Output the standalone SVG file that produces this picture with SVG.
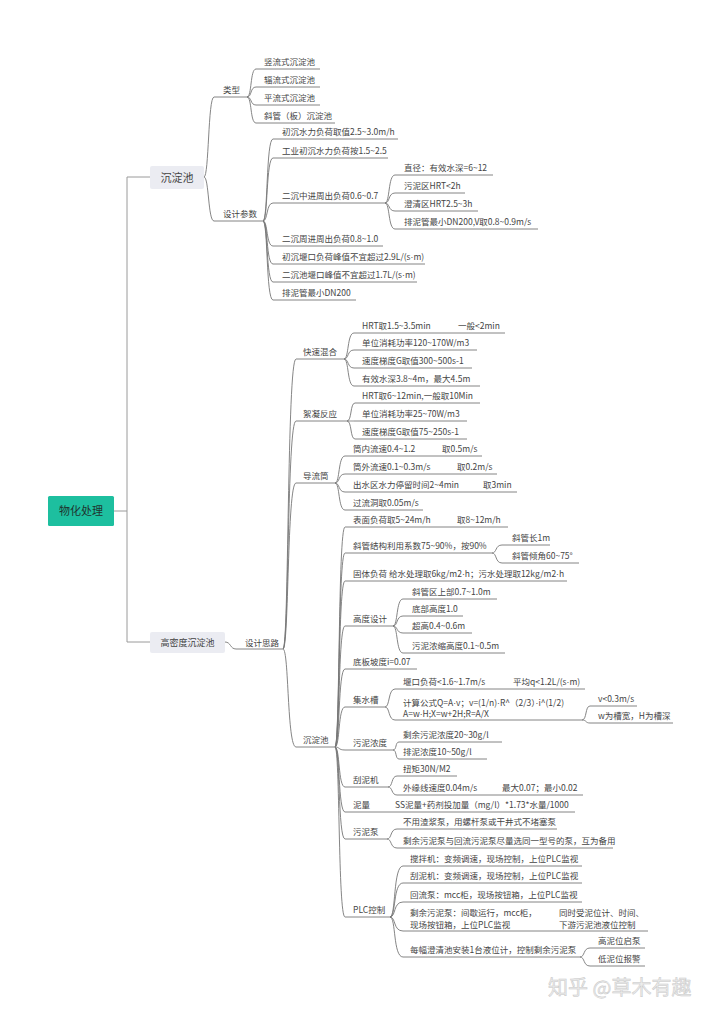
<svg xmlns="http://www.w3.org/2000/svg" width="720" height="1019" viewBox="0 0 720 1019">
<style>
text{font-family:"Noto Sans CJK SC","Noto Sans",sans-serif;fill:#444;font-size:8.5px}
.d{font-family:"Liberation Sans",sans-serif}
.c{fill:none;stroke:#777;stroke-width:0.9}
.r{fill:none;stroke:#9a9a9a;stroke-width:1}
.box{fill:#ebecf2}
.mid{text-anchor:middle}
</style>
<rect width="720" height="1019" fill="#fff"/>
<g id="connectors">
<path class="r" d="M114,511 H127 M127,177 V642 M127,177 H150 M127,642 H150"/>
<path class="c" d="M204,177 C209,177 208,97 214,97 H247 M204,177 C209,177 208,221 214,221 H263"/>
<path class="c" d="M247,97 C252,97 250,69 256,69 H320 M247,97 C252,97 250,87 256,87 H320 M247,97 C252,97 250,105 256,105 H320 M247,97 C252,97 250,123 256,123 H335"/>
<path class="c" d="M263,221 C268,221 266,139 273,139 H398 M263,221 C268,221 266,158 273,158 H388 M263,221 C268,221 266,203 273,203 H385 M263,221 C268,221 266,246 273,246 H383 M263,221 C268,221 266,264 273,264 H425 M263,221 C268,221 266,282 273,282 H417 M263,221 C268,221 266,300 273,300 H356"/>
<path class="c" d="M385,203 C390,203 388,175 395,175 H493 M385,203 C390,203 388,193 395,193 H465 M385,203 C390,203 388,211 395,211 H478 M385,203 C390,203 388,229 395,229 H538"/>
<path class="c" d="M225,642 C231,642 230,649 236,649 H283"/>
<path class="c" d="M283,649 C289,649 287,359 296,359 H344 M283,649 C289,649 287,421 296,421 H347 M283,649 C289,649 287,483 296,483 H335 M283,649 C289,649 287,747 296,747 H335"/>
<path class="c" d="M344,359 C349,359 347,333 354,333 H505 M344,359 C349,359 347,350 354,350 H477 M344,359 C349,359 347,368 354,368 H472 M344,359 C349,359 347,386 354,386 H480"/>
<path class="c" d="M347,421 C352,421 350,403 355,403 H480 M347,421 C352,421 350,421 355,421 H467 M347,421 C352,421 350,439 355,439 H467"/>
<path class="c" d="M335,483 C340,483 338,456 345,456 H482 M335,483 C340,483 338,474 345,474 H497 M335,483 C340,483 338,492 345,492 H517 M335,483 C340,483 338,510 345,510 H423"/>
<path class="c" d="M335,747 C340,747 338,527 345,527 H508 M335,747 C340,747 338,553 345,553 H492 M335,747 C340,747 338,581 345,581 H567 M335,747 C340,747 338,626 345,626 H393 M335,747 C340,747 338,669 345,669 H417 M335,747 C340,747 338,707 345,707 H385 M335,747 C340,747 338,750 345,750 H393 M335,747 C340,747 338,787 345,787 H388 M335,747 C340,747 338,812 345,812 H575 M335,747 C340,747 338,839 345,839 H387 M335,747 C340,747 338,917 345,917 H390"/>
<path class="c" d="M492,553 C497,553 495,545 502,545 H550 M492,553 C497,553 495,563 502,563 H579"/>
<path class="c" d="M393,626 C398,626 396,599 403,599 H497 M393,626 C398,626 396,616 403,616 H463 M393,626 C398,626 396,633 403,633 H472 M393,626 C398,626 396,653 403,653 H505"/>
<path class="c" d="M385,707 C390,707 388,689 395,689 H585 M385,707 C390,707 388,720 395,720 H582"/>
<path class="c" d="M582,720 C587,720 585,706 590,706 H637 M582,720 C587,720 585,723 590,723 H673"/>
<path class="c" d="M393,750 C397,750 395,742 399,742 H502 M393,750 C397,750 395,759 399,759 H487"/>
<path class="c" d="M388,787 C393,787 391,776 397,776 H457 M388,787 C393,787 391,795 397,795 H583"/>
<path class="c" d="M387,839 C392,839 390,829 397,829 H557 M387,839 C392,839 390,848 397,848 H613"/>
<path class="c" d="M390,917 C396,917 393,866 403,866 H582 M390,917 C396,917 393,883 403,883 H582 M390,917 C396,917 393,902 403,902 H582 M390,917 C396,917 393,931 403,931 H648 M390,917 C396,917 393,957 403,957 H580"/>
<path class="c" d="M580,957 C585,957 583,948 590,948 H645 M580,957 C585,957 583,966 590,966 H645"/>
</g>
<g id="root"><rect x="48" y="496" width="66" height="30" rx="1.5" fill="#1dbf9f"/><text x="81" y="515" class="mid" style="font-size:11px;fill:#1f332e">物化处理</text></g>
<g id="n-cdc"><rect class="box" x="150" y="166" width="54" height="23" rx="2"/><text x="177" y="181.5" class="mid" style="font-size:11px">沉淀池</text></g>
<g id="n-gmd"><rect class="box" x="150" y="632" width="75" height="21" rx="2"/><text x="187.5" y="645.5" class="mid" style="font-size:9px">高密度沉淀池</text></g>
<g id="n-lx"><text x="223" y="93">类型</text></g>
<g id="n-lx1"><text x="264" y="65">竖流式沉淀池</text></g>
<g id="n-lx2"><text x="264" y="83">辐流式沉淀池</text></g>
<g id="n-lx3"><text x="264" y="101">平流式沉淀池</text></g>
<g id="n-lx4"><text x="264" y="119">斜管（板）沉淀池</text></g>
<g id="n-sjcs"><text x="223" y="217">设计参数</text></g>
<g id="n-p1"><text x="282" y="135">初沉水力负荷取值2.5~3.0m/h</text></g>
<g id="n-p2"><text x="282" y="154">工业初沉水力负荷按1.5~2.5</text></g>
<g id="n-p3"><text x="282" y="199">二沉中进周出负荷0.6~0.7</text></g>
<g id="n-p31"><text x="404" y="171">直径：有效水深=6~12</text></g>
<g id="n-p32"><text x="404" y="189">污泥区HRT&lt;2h</text></g>
<g id="n-p33"><text x="404" y="207">澄清区HRT2.5~3h</text></g>
<g id="n-p34"><text x="404" y="225">排泥管最小DN200,V取0.8~0.9m/s</text></g>
<g id="n-p4"><text x="282" y="242">二沉周进周出负荷0.8~1.0</text></g>
<g id="n-p5"><text x="282" y="260">初沉堰口负荷峰值不宜超过2.9L/(s<tspan class="d">·</tspan>m)</text></g>
<g id="n-p6"><text x="282" y="278">二沉池堰口峰值不宜超过1.7L/(s<tspan class="d">·</tspan>m)</text></g>
<g id="n-p7"><text x="282" y="296">排泥管最小DN200</text></g>
<g id="n-sjsl"><text x="245" y="646">设计思路</text></g>
<g id="n-kshh"><text x="303" y="355">快速混合</text></g>
<g id="n-k1"><text x="362" y="329">HRT取1.5~3.5min</text><text x="458" y="329">一般&lt;2min</text></g>
<g id="n-k2"><text x="362" y="346">单位消耗功率120~170W/m3</text></g>
<g id="n-k3"><text x="362" y="364">速度梯度G取值300~500s-1</text></g>
<g id="n-k4"><text x="362" y="382">有效水深3.8~4m，最大4.5m</text></g>
<g id="n-xnfy"><text x="303" y="417">絮凝反应</text></g>
<g id="n-x1"><text x="362" y="399">HRT取6~12min,一般取10Min</text></g>
<g id="n-x2"><text x="362" y="417">单位消耗功率25~70W/m3</text></g>
<g id="n-x3"><text x="362" y="435">速度梯度G取值75~250s-1</text></g>
<g id="n-dlt"><text x="303" y="479">导流筒</text></g>
<g id="n-d1"><text x="353" y="452">筒内流速0.4~1.2</text><text x="442" y="452">取0.5m/s</text></g>
<g id="n-d2"><text x="353" y="470">筒外流速0.1~0.3m/s</text><text x="457" y="470">取0.2m/s</text></g>
<g id="n-d3"><text x="353" y="488">出水区水力停留时间2~4min</text><text x="483" y="488">取3min</text></g>
<g id="n-d4"><text x="353" y="506">过流洞取0.05m/s</text></g>
<g id="n-cdc2"><text x="303" y="743">沉淀池</text></g>
<g id="n-c1"><text x="353" y="523">表面负荷取5~24m/h</text><text x="457" y="523">取8~12m/h</text></g>
<g id="n-c2"><text x="353" y="549">斜管结构利用系数75~90%，按90%</text></g>
<g id="n-c21"><text x="512" y="541">斜管长1m</text></g>
<g id="n-c22"><text x="512" y="559">斜管倾角60~75°</text></g>
<g id="n-c3"><text x="353" y="577">固体负荷 给水处理取6kg/m2<tspan class="d">·</tspan>h；污水处理取12kg/m2<tspan class="d">·</tspan>h</text></g>
<g id="n-gdsj"><text x="353" y="622">高度设计</text></g>
<g id="n-g1"><text x="412" y="595">斜管区上部0.7~1.0m</text></g>
<g id="n-g2"><text x="412" y="612">底部高度1.0</text></g>
<g id="n-g3"><text x="412" y="629">超高0.4~0.6m</text></g>
<g id="n-g4"><text x="412" y="649">污泥浓缩高度0.1~0.5m</text></g>
<g id="n-dbpd"><text x="353" y="665">底板坡度i=0.07</text></g>
<g id="n-jsc"><text x="353" y="703">集水槽</text></g>
<g id="n-j1"><text x="403" y="685">堰口负荷&lt;1.6~1.7m/s</text><text x="513" y="685">平均q&lt;1.2L/(s<tspan class="d">·</tspan>m)</text></g>
<g id="n-j2"><text x="403" y="706">计算公式Q=A<tspan class="d">·</tspan>v；v=(1/n)<tspan class="d">·</tspan>R^（2/3）<tspan class="d">·</tspan>i^(1/2)</text><text x="403" y="716.5">A=w<tspan class="d">·</tspan>H;X=w+2H;R=A/X</text></g>
<g id="n-j21"><text x="598" y="702">v&lt;0.3m/s</text></g>
<g id="n-j22"><text x="598" y="719">w为槽宽，H为槽深</text></g>
<g id="n-wnnd"><text x="353" y="746">污泥浓度</text></g>
<g id="n-w1"><text x="403" y="738">剩余污泥浓度20~30g/l</text></g>
<g id="n-w2"><text x="403" y="755">排泥浓度10~50g/l</text></g>
<g id="n-gnj"><text x="353" y="783">刮泥机</text></g>
<g id="n-gn1"><text x="403" y="772">扭矩30N/M2</text></g>
<g id="n-gn2"><text x="403" y="791">外缘线速度0.04m/s</text><text x="502" y="791">最大0.07；最小0.02</text></g>
<g id="n-nl"><text x="353" y="808">泥量</text><text x="395" y="808">SS泥量+药剂投加量（mg/l）*1.73*水量/1000</text></g>
<g id="n-wnb"><text x="353" y="835">污泥泵</text></g>
<g id="n-b1"><text x="403" y="825">不用渣浆泵，用螺杆泵或干井式不堵塞泵</text></g>
<g id="n-b2"><text x="403" y="844">剩余污泥泵与回流污泥泵尽量选同一型号的泵，互为备用</text></g>
<g id="n-plc"><text x="353" y="913">PLC控制</text></g>
<g id="n-l1"><text x="410" y="862">搅拌机：变频调速，现场控制，上位PLC监视</text></g>
<g id="n-l2"><text x="410" y="879">刮泥机：变频调速，现场控制，上位PLC监视</text></g>
<g id="n-l3"><text x="410" y="898">回流泵：mcc柜，现场按钮箱，上位PLC监视</text></g>
<g id="n-l4"><text x="410" y="916">剩余污泥泵：间歇运行，mcc柜，</text><text x="410" y="928">现场按钮箱，上位PLC监视</text><text x="559" y="916">同时受泥位计、时间、</text><text x="559" y="928">下游污泥池液位控制</text></g>
<g id="n-l5"><text x="410" y="953">每幅澄清池安装1台液位计，控制剩余污泥泵</text></g>
<g id="n-l51"><text x="598" y="944">高泥位启泵</text></g>
<g id="n-l52"><text x="598" y="962">低泥位报警</text></g>
<text x="548" y="995" style="font-size:20px;fill:#ececec;stroke:#c8c8c8;stroke-width:0.5">知乎 @草木有趣</text>
</svg>
